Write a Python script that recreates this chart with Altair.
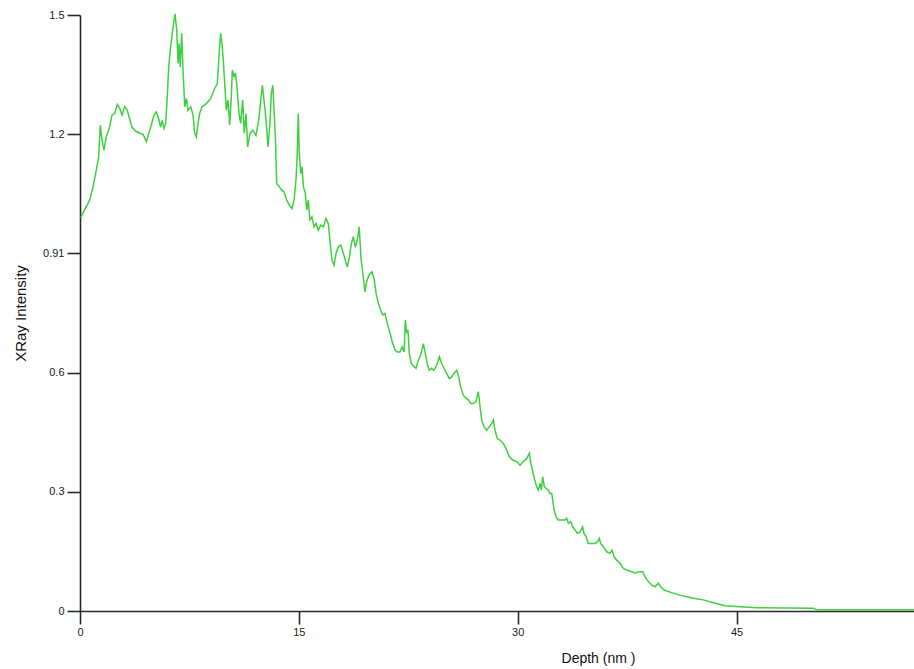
import altair as alt
import pandas as pd

depth = [0.05, 0.32, 0.66, 0.89, 1.12, 1.28, 1.39, 1.51, 1.64, 1.80, 2.03, 2.19, 2.38, 2.56, 2.72, 2.88,
         3.06, 3.24, 3.40, 3.56, 3.79, 4.09, 4.32, 4.55, 4.71, 4.89, 5.07, 5.23, 5.39, 5.53, 5.64, 5.76,
         5.87, 5.98, 6.08, 6.21, 6.37, 6.51, 6.63, 6.72, 6.79, 6.87, 6.97, 7.06, 7.18, 7.29, 7.40, 7.59,
         7.75, 7.86, 7.97, 8.09, 8.20, 8.36, 8.66, 8.96, 9.23, 9.41, 9.55, 9.64, 9.73, 9.82, 9.92, 10.03,
         10.14, 10.26, 10.37, 10.44, 10.56, 10.65, 10.74, 10.90, 11.01, 11.15, 11.26, 11.38, 11.49, 11.65,
         11.84, 12.06, 12.25, 12.39, 12.50, 12.61, 12.75, 12.89, 13.02, 13.11, 13.21, 13.30, 13.39, 13.48,
         13.66, 13.82, 13.98, 14.17, 14.35, 14.53, 14.67, 14.80, 14.89, 14.96, 15.03, 15.13, 15.22, 15.31,
         15.44, 15.54, 15.65, 15.76, 15.90, 16.04, 16.18, 16.33, 16.50, 16.68, 16.86, 17.02, 17.14, 17.27,
         17.41, 17.55, 17.70, 17.87, 18.05, 18.18, 18.32, 18.46, 18.60, 18.73, 18.87, 19.00, 19.14, 19.25,
         19.40, 19.53, 19.65, 19.83, 20.00, 20.15, 20.29, 20.45, 20.61, 20.75, 20.90, 21.06, 21.25, 21.43,
         21.59, 21.75, 21.93, 22.07, 22.21, 22.30, 22.39, 22.48, 22.57, 22.71, 22.89, 23.03, 23.19, 23.35,
         23.53, 23.67, 23.80, 23.94, 24.10, 24.26, 24.45, 24.63, 24.79, 24.95, 25.13, 25.31, 25.48, 25.63,
         25.82, 25.96, 26.09, 26.27, 26.46, 26.64, 26.78, 26.96, 27.14, 27.30, 27.42, 27.53, 27.69, 27.87,
         28.05, 28.22, 28.33, 28.44, 28.60, 28.79, 29.01, 29.25, 29.42, 29.66, 29.93, 30.16, 30.38, 30.62,
         30.80, 30.89, 31.03, 31.16, 31.30, 31.41, 31.53, 31.62, 31.71, 31.82, 31.94, 32.10, 32.21, 32.33,
         32.40, 32.49, 32.63, 32.78, 33.01, 33.24, 33.35, 33.47, 33.63, 33.77, 33.93, 34.09, 34.27, 34.45,
         34.54, 34.68, 34.84, 35.07, 35.30, 35.46, 35.59, 35.68, 35.87, 36.10, 36.33, 36.46, 36.60, 36.78,
         37.01, 37.24, 37.47, 37.81, 38.04, 38.27, 38.57, 38.73, 38.95, 39.18, 39.41, 39.64, 39.80, 40.03,
         40.32, 40.66, 41.12, 41.58, 42.04, 42.72, 43.41, 44.21, 46.38, 50.26, 50.49, 57.16]

intensity = [0.990, 1.010, 1.034, 1.067, 1.110, 1.143, 1.223, 1.185, 1.160, 1.193, 1.218, 1.248, 1.252, 1.275, 1.265, 1.248,
             1.270, 1.260, 1.239, 1.218, 1.208, 1.203, 1.200, 1.181, 1.202, 1.223, 1.248, 1.256, 1.239, 1.218, 1.235, 1.214,
             1.227, 1.294, 1.369, 1.420, 1.467, 1.503, 1.462, 1.378, 1.428, 1.369, 1.454, 1.361, 1.269, 1.290, 1.260, 1.269,
             1.248, 1.202, 1.193, 1.227, 1.252, 1.269, 1.277, 1.290, 1.315, 1.327, 1.411, 1.454, 1.428, 1.386, 1.327, 1.260,
             1.286, 1.223, 1.294, 1.361, 1.345, 1.354, 1.327, 1.252, 1.227, 1.286, 1.202, 1.252, 1.168, 1.202,
             1.210, 1.197, 1.235, 1.286, 1.323, 1.286, 1.235, 1.168, 1.227, 1.302, 1.323, 1.260, 1.193, 1.076,
             1.068, 1.059, 1.055, 1.034, 1.021, 1.013, 1.034, 1.084, 1.151, 1.252, 1.151, 1.101, 1.118, 1.068,
             1.051, 1.009, 1.034, 0.984, 0.992, 0.967, 0.975, 0.958, 0.971, 0.967, 0.988, 0.975, 0.929, 0.883,
             0.870, 0.900, 0.916, 0.921, 0.900, 0.883, 0.866, 0.891, 0.925, 0.942, 0.916, 0.933, 0.967, 0.891,
             0.845, 0.803, 0.830, 0.847, 0.854, 0.837, 0.800, 0.774, 0.757, 0.745, 0.749, 0.724, 0.699, 0.673,
             0.657, 0.652, 0.652, 0.665, 0.652, 0.732, 0.699, 0.707, 0.648, 0.623, 0.615, 0.611, 0.631, 0.644,
             0.673, 0.648, 0.623, 0.606, 0.611, 0.606, 0.619, 0.640, 0.623, 0.611, 0.598, 0.585, 0.589, 0.598,
             0.606, 0.589, 0.564, 0.543, 0.535, 0.531, 0.522, 0.522, 0.527, 0.552, 0.514, 0.481, 0.464, 0.455,
             0.464, 0.472, 0.481, 0.455, 0.434, 0.430, 0.422, 0.405, 0.388, 0.380, 0.376, 0.367, 0.376, 0.384,
             0.397, 0.372, 0.351, 0.330, 0.313, 0.304, 0.321, 0.304, 0.338, 0.313, 0.309, 0.304, 0.296, 0.296,
             0.279, 0.254, 0.237, 0.229, 0.229, 0.229, 0.233, 0.221, 0.225, 0.212, 0.204, 0.195, 0.199, 0.212,
             0.195, 0.187, 0.170, 0.170, 0.170, 0.174, 0.183, 0.170, 0.162, 0.149, 0.145, 0.153, 0.137, 0.128,
             0.120, 0.107, 0.103, 0.099, 0.095, 0.099, 0.099, 0.086, 0.074, 0.065, 0.061, 0.070, 0.061, 0.053,
             0.049, 0.045, 0.040, 0.036, 0.032, 0.028, 0.021, 0.013, 0.008, 0.007, 0.003, 0.003]

x_ticks = [0, 15, 30, 45]
y_ticks = [0, 0.3, 0.6, 0.9, 1.2, 1.5]

df = pd.DataFrame({"depth": depth, "intensity": intensity})

FONT = "Liberation Sans"

chart = alt.Chart(df).mark_line(color="#3fd03f", strokeWidth=1.5, clip=False).encode(
    x=alt.X("depth:Q",
            scale=alt.Scale(domain=[0, 57.16], nice=False, zero=False),
            axis=alt.Axis(values=x_ticks, title="Depth (nm )", grid=False,
                          domainColor="#2a2a2a", domainWidth=1.6,
                          tickColor="#2a2a2a", tickWidth=1.6, tickSize=13,
                          labelFont=FONT, labelFontSize=11, labelColor="#222222",
                          labelPadding=2, labelFlush=False,
                          titleFont=FONT, titleFontSize=14, titleFontWeight="normal",
                          titleColor="#111111", titleX=518, titleY=47,
                          titleAlign="center", titleBaseline="middle")),
    y=alt.Y("intensity:Q",
            scale=alt.Scale(domain=[0, 1.5], nice=False),
            axis=alt.Axis(values=y_ticks, format="~g",
                          labelExpr="datum.value == 0.9 ? '0.91' : datum.label",
                          title="XRay Intensity", grid=False,
                          domainColor="#2a2a2a", domainWidth=1.6,
                          tickColor="#2a2a2a", tickWidth=1.6, tickSize=13,
                          labelFont=FONT, labelFontSize=11, labelColor="#222222",
                          labelPadding=3, labelFlush=False,
                          titleFont=FONT, titleFontSize=15, titleFontWeight="normal",
                          titleColor="#111111", titleX=-60, titleY=298,
                          titleAlign="center", titleBaseline="middle", titleAngle=270)),
).properties(
    width=834,
    height=596,
    autosize=alt.AutoSizeParams(type="none"),
    padding={"left": 80, "top": 15, "right": 0, "bottom": 58},
    background="white",
).configure_view(stroke=None)

chart.save("out.html", embed_options={"renderer": "svg", "actions": False})
